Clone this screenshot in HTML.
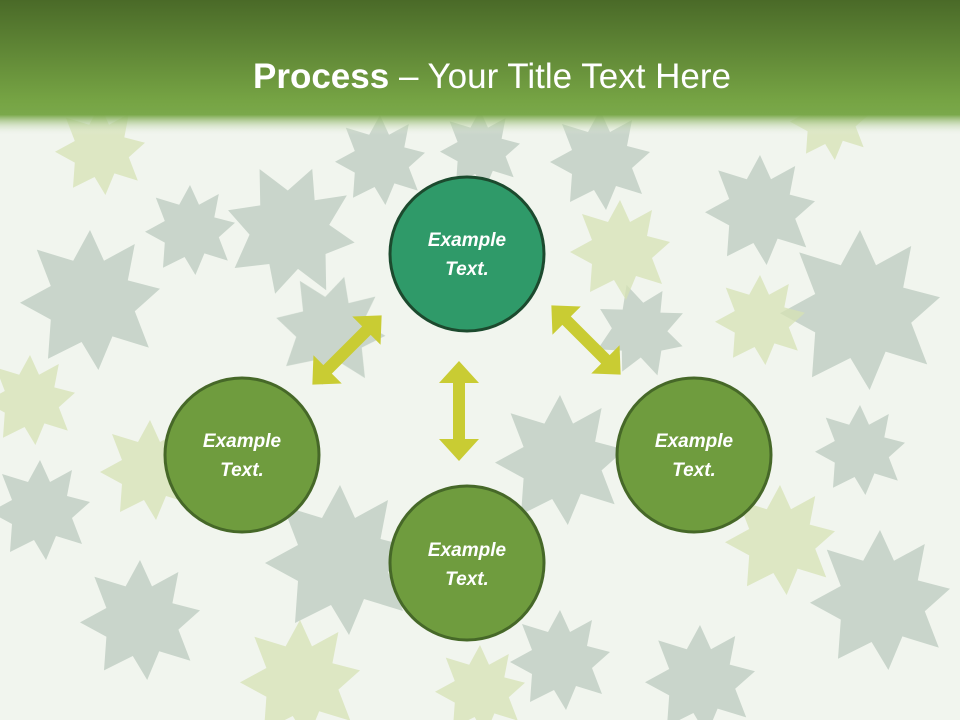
<!DOCTYPE html>
<html><head><meta charset="utf-8"><style>
html,body{margin:0;padding:0;width:960px;height:720px;overflow:hidden;background:#f1f5ee}
</style></head><body>
<svg width="960" height="720" xmlns="http://www.w3.org/2000/svg" style="position:absolute;left:0;top:0">
<defs>
<linearGradient id="hd" x1="0" y1="0" x2="0" y2="1">
<stop offset="0" stop-color="#4a6a28"/><stop offset="0.75" stop-color="#76a444"/><stop offset="0.85" stop-color="#7aa84a"/><stop offset="1" stop-color="#f1f5ee" stop-opacity="0"/>
</linearGradient>
<g id="leaf"><path d="M0,-50 L10,-28 L32,-40 L27,-14 L50,-8 L32,8 L42,34 L16,26 L6,50 L-6,30 L-30,42 L-28,14 L-50,2 L-28,-10 L-38,-36 L-12,-28 Z"/></g>
<g id="arr"><polygon points="-50,0 -28,-20 -28,-6 28,-6 28,-20 50,0 28,20 28,6 -28,6 -28,20"/></g>
</defs>
<rect width="960" height="720" fill="#f1f5ee"/>
<g fill="#b8c8bc" opacity="0.7">
<use href="#leaf" transform="translate(90,300) scale(1.4)"/>
<use href="#leaf" transform="translate(290,230) scale(1.3) rotate(20)"/>
<use href="#leaf" transform="translate(190,230) scale(0.9)"/>
<use href="#leaf" transform="translate(600,160) scale(1.0)"/>
<use href="#leaf" transform="translate(760,210) scale(1.1)"/>
<use href="#leaf" transform="translate(860,310) scale(1.6)"/>
<use href="#leaf" transform="translate(560,460) scale(1.3)"/>
<use href="#leaf" transform="translate(340,560) scale(1.5)"/>
<use href="#leaf" transform="translate(140,620) scale(1.2)"/>
<use href="#leaf" transform="translate(880,600) scale(1.4)"/>
<use href="#leaf" transform="translate(40,510) scale(1.0)"/>
<use href="#leaf" transform="translate(700,680) scale(1.1)"/>
<use href="#leaf" transform="translate(860,450) scale(0.9)"/>
<use href="#leaf" transform="translate(380,160) scale(0.9)"/>
<use href="#leaf" transform="translate(640,330) scale(0.9) rotate(30)"/>
<use href="#leaf" transform="translate(330,330) scale(1.1) rotate(15)"/>
<use href="#leaf" transform="translate(480,150) scale(0.8)"/>
<use href="#leaf" transform="translate(560,660) scale(1.0)"/>
</g>
<g fill="#d6e2b4" opacity="0.75">
<use href="#leaf" transform="translate(100,150) scale(0.9)"/>
<use href="#leaf" transform="translate(620,250) scale(1.0)"/>
<use href="#leaf" transform="translate(780,540) scale(1.1)"/>
<use href="#leaf" transform="translate(300,680) scale(1.2)"/>
<use href="#leaf" transform="translate(150,470) scale(1.0)"/>
<use href="#leaf" transform="translate(830,120) scale(0.8)"/>
<use href="#leaf" transform="translate(480,690) scale(0.9)"/>
<use href="#leaf" transform="translate(30,400) scale(0.9)"/>
<use href="#leaf" transform="translate(760,320) scale(0.9)"/>
</g>
<rect width="960" height="135" fill="url(#hd)"/>
<text x="492" y="88" text-anchor="middle" font-family="Liberation Sans, sans-serif" font-size="35" fill="#fff"><tspan font-weight="bold">Process</tspan> – Your Title Text Here</text>
<g fill="#c9cc33">
<use href="#arr" transform="translate(459,411) rotate(90)"/>
<use href="#arr" transform="translate(347,350) rotate(-45) scale(0.98,1)"/>
<use href="#arr" transform="translate(586,340) rotate(45) scale(0.98,1)"/>
</g>
<g font-family="Liberation Sans, sans-serif" font-size="19" font-weight="bold" font-style="italic" fill="#fff" text-anchor="middle">
<circle cx="467" cy="254" r="77" fill="#2f9a69" stroke="#1c4a2e" stroke-width="3"/>
<text x="467" y="246">Example</text><text x="467" y="275">Text.</text>
<circle cx="242" cy="455" r="77" fill="#6f9c3e" stroke="#466828" stroke-width="3"/>
<text x="242" y="447">Example</text><text x="242" y="476">Text.</text>
<circle cx="694" cy="455" r="77" fill="#6f9c3e" stroke="#466828" stroke-width="3"/>
<text x="694" y="447">Example</text><text x="694" y="476">Text.</text>
<circle cx="467" cy="563" r="77" fill="#6f9c3e" stroke="#466828" stroke-width="3"/>
<text x="467" y="556">Example</text><text x="467" y="585">Text.</text>
</g>
</svg>
</body></html>
